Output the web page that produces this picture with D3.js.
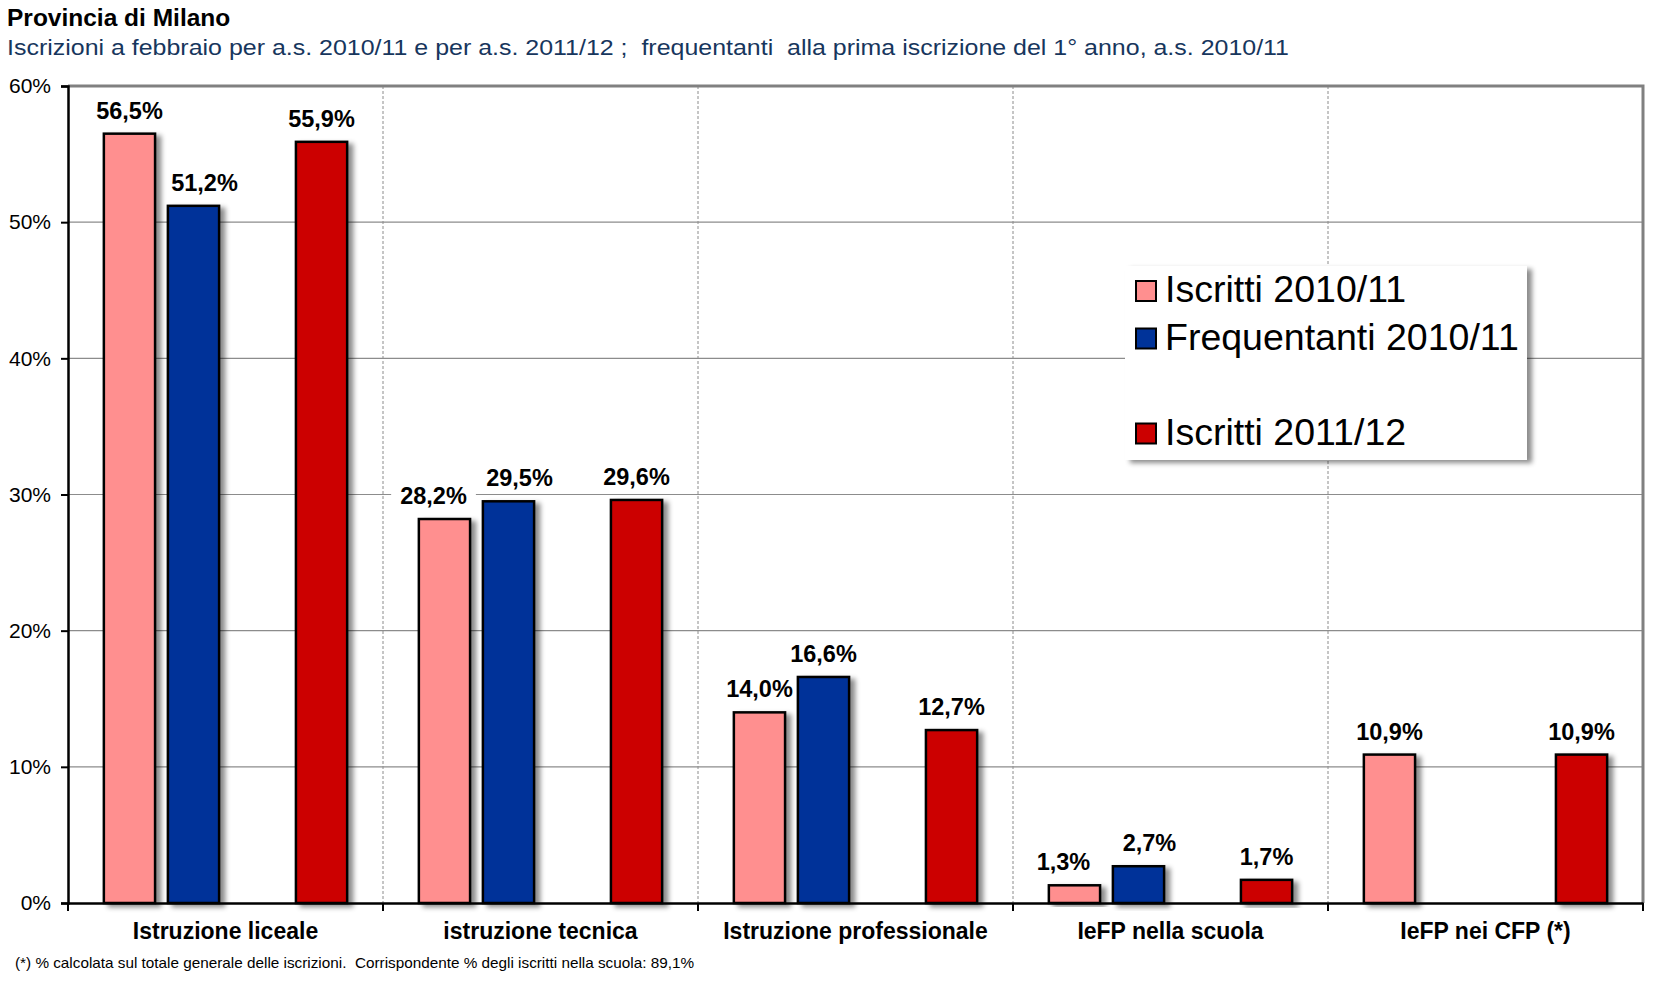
<!DOCTYPE html>
<html>
<head>
<meta charset="utf-8">
<script src="https://cdn.jsdelivr.net/npm/d3@7"></script>
<style>
  html, body { margin: 0; padding: 0; background: #fff; }
  svg { display: block; }
  text { font-family: Arial, "Liberation Sans", sans-serif; }
</style>
</head>
<body>
<svg id="chart" width="1672" height="983"></svg>
<script>
// ---- data ----
const categories = ["Istruzione liceale", "istruzione tecnica", "Istruzione professionale", "IeFP nella scuola", "IeFP nei CFP (*)"];
const seriesNames = ["Iscritti 2010/11", "Frequentanti 2010/11", "", "Iscritti 2011/12"];
const iscritti2010 = [56.5, 28.2, 14.0, 1.3, 10.9];
const frequentanti2010 = [51.2, 29.5, 16.6, 2.7, null];
const blankSeries = [null, null, null, null, null];
const iscritti2011 = [55.9, 29.6, 12.7, 1.7, 10.9];
const yTicks = [0, 10, 20, 30, 40, 50, 60];
const seriesColors = ["#FF8F8F", "#003399", "none", "#CC0000"];

const titleText = "Provincia di Milano";
const subtitleText = "Iscrizioni a febbraio per a.s. 2010/11 e per a.s. 2011/12 ;  frequentanti  alla prima iscrizione del 1° anno, a.s. 2010/11";
const footnoteText = "(*) % calcolata sul totale generale delle iscrizioni.  Corrispondente % degli iscritti nella scuola: 89,1%";

const seriesValues = [iscritti2010, frequentanti2010, blankSeries, iscritti2011];

// ---- layout ----
const svg = d3.select("#chart");
const M = { left: 68, right: 1643, top: 86, bottom: 903 };

const x = d3.scaleBand().domain(categories).range([M.left, M.right]).padding(0);
const xs = d3.scaleBand().domain(d3.range(seriesNames.length)).range([0, x.bandwidth()])
  .paddingInner(0.2).paddingOuter(0.56);
const y = d3.scaleLinear().domain([0, 60]).range([M.bottom, M.top]);

const defs = svg.append("defs");
const f = defs.append("filter").attr("id", "shadow").attr("x", "-20%").attr("y", "-20%").attr("width", "160%").attr("height", "140%");
f.append("feDropShadow").attr("dx", 5).attr("dy", 3).attr("stdDeviation", 2.5)
  .attr("flood-color", "#000").attr("flood-opacity", 0.45);

// titles
svg.append("text").attr("x", 7).attr("y", 26).attr("font-size", 24.5).attr("font-weight", "bold")
  .attr("fill", "#000").text(titleText);
svg.append("text").attr("x", 7).attr("y", 55).attr("font-size", 22).attr("fill", "#17365D")
  .style("white-space", "pre").attr("textLength", 1282).attr("lengthAdjust", "spacingAndGlyphs")
  .text(subtitleText);

// horizontal gridlines
svg.append("g").selectAll("line").data(yTicks.filter(t => t > 0 && t < 60)).join("line")
  .attr("x1", M.left).attr("x2", M.right).attr("y1", d => y(d)).attr("y2", d => y(d))
  .attr("stroke", "#8c8c8c").attr("stroke-width", 1.2);

// vertical dashed category separators
svg.append("g").selectAll("line").data(categories.slice(1)).join("line")
  .attr("x1", d => x(d)).attr("x2", d => x(d)).attr("y1", M.top).attr("y2", M.bottom)
  .attr("stroke", "#8c8c8c").attr("stroke-width", 1).attr("stroke-dasharray", "3,2");

// top & right border
svg.append("path")
  .attr("d", `M${M.left},${M.top}H${M.right}V${M.bottom}`)
  .attr("fill", "none").attr("stroke", "#808080").attr("stroke-width", 3);

// bar data
const barData = [];
seriesValues.forEach((vals, si) => {
  vals.forEach((v, ci) => {
    if (v !== null) barData.push({ si, ci, v });
  });
});

const fmt = v => v.toFixed(1).replace(".", ",") + "%";
const bgLayer = svg.append("g");
const barLayer = svg.append("g");
const txtLayer = svg.append("g");

// bars
barLayer.selectAll("rect").data(barData).join("rect")
  .attr("x", d => x(categories[d.ci]) + xs(d.si))
  .attr("width", xs.bandwidth())
  .attr("y", d => y(d.v))
  .attr("height", d => y(0) - y(d.v))
  .attr("fill", d => seriesColors[d.si])
  .attr("stroke", "#000").attr("stroke-width", 2.5)
  .attr("filter", "url(#shadow)");

// data labels: nudge apart labels of adjacent bars that are at similar heights,
// or labels that would collide with a taller neighbouring bar
const nudge = 11;
const labelGap = 15;
barData.forEach(d => {
  d.cx = x(categories[d.ci]) + xs(d.si) + xs.bandwidth() / 2;
  d.by = y(d.v) - labelGap;
  d.dx = 0;
});
const byKey = new Map(barData.map(d => [d.ci + "_" + d.si, d]));
barData.forEach(d => {
  const left = byKey.get(d.ci + "_" + (d.si - 1));
  const right = byKey.get(d.ci + "_" + (d.si + 1));
  if (left) {
    const close = Math.abs(left.by - d.by) < 35;
    const blocked = y(left.v) < d.by;
    if (close || blocked) d.dx += nudge;
  }
  if (right) {
    const close = Math.abs(right.by - d.by) < 35;
    const blocked = y(right.v) < d.by && Math.abs(right.by - d.by) < 35;
    if (close || blocked) d.dx -= nudge;
  }
});

barData.forEach(d => {
  const t = txtLayer.append("text").attr("x", d.cx + d.dx).attr("y", d.by).attr("text-anchor", "middle")
    .attr("font-size", 23.5).attr("font-weight", "bold").attr("fill", "#000").text(fmt(d.v));
  const bb = t.node().getBBox();
  bgLayer.append("rect").attr("x", bb.x - 9).attr("y", bb.y + 2).attr("width", bb.width + 18)
    .attr("height", bb.height).attr("fill", "#fff");
});

// y axis
const yAxis = d3.axisLeft(y).tickValues(yTicks).tickFormat(d => d + "%").tickSize(7).tickPadding(10);
const ya = svg.append("g").attr("transform", `translate(${M.left},0)`).call(yAxis);
ya.select(".domain").attr("stroke", "#000").attr("stroke-width", 2.5);
ya.selectAll(".tick line").attr("stroke", "#000").attr("stroke-width", 2);
ya.selectAll(".tick text").attr("font-size", 21).attr("fill", "#000")
  .attr("font-family", "Arial, 'Liberation Sans', sans-serif");

// x axis
const xa = svg.append("g").attr("transform", `translate(0,${M.bottom})`)
  .call(d3.axisBottom(x).tickSize(0).tickPadding(20));
xa.select(".domain").attr("stroke", "#000").attr("stroke-width", 2.5);
xa.selectAll(".tick text").attr("font-size", 23).attr("font-weight", "bold").attr("fill", "#000")
  .attr("font-family", "Arial, 'Liberation Sans', sans-serif").attr("dy", "0.71em");
// category boundary ticks
const bounds = categories.map(c => x(c)).concat([x.range()[1]]);
svg.append("g").selectAll("line").data(bounds).join("line")
  .attr("x1", d => d).attr("x2", d => d).attr("y1", M.bottom).attr("y2", M.bottom + 8)
  .attr("stroke", "#000").attr("stroke-width", 2);

// legend
const leg = svg.append("g").attr("transform", "translate(1125,266)");
leg.append("rect").attr("width", 402).attr("height", 194).attr("fill", "#fff")
  .attr("filter", "url(#shadow)");
seriesNames.forEach((name, i) => {
  if (!name) return;
  const ry = 36 + i * 47.5;
  leg.append("rect").attr("x", 11).attr("y", ry - 21).attr("width", 20).attr("height", 20)
    .attr("fill", seriesColors[i]).attr("stroke", "#000").attr("stroke-width", 2);
  leg.append("text").attr("x", 40).attr("y", ry).attr("font-size", 37.5).attr("fill", "#000").text(name);
});

// footnote
svg.append("text").attr("x", 15).attr("y", 968).attr("font-size", 15)
  .attr("font-family", "'Open Sans', Lato, sans-serif").attr("fill", "#000")
  .style("white-space", "pre").attr("textLength", 679).attr("lengthAdjust", "spacingAndGlyphs")
  .text(footnoteText);
</script>
</body>
</html>
